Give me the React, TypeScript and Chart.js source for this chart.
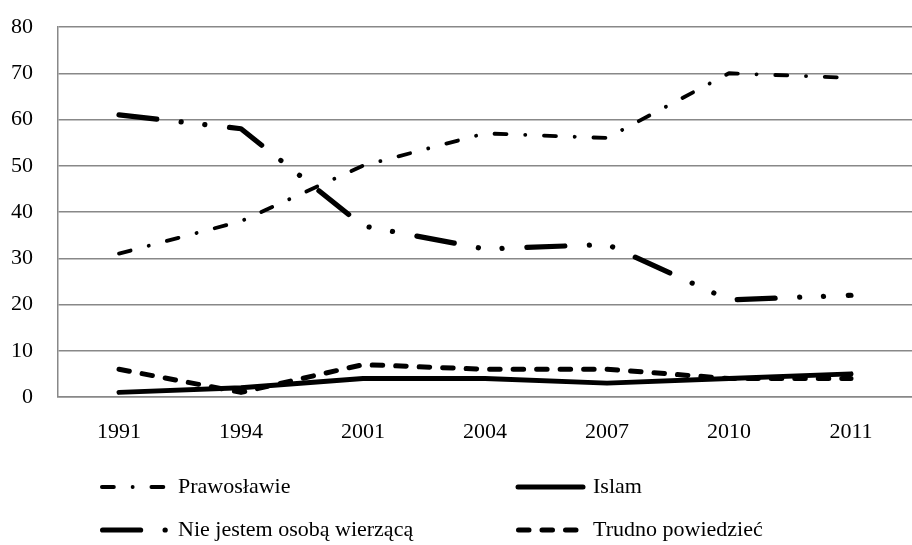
import React, { useEffect, useRef } from "react";
import { Chart, registerables } from "chart.js";

Chart.register(...registerables);

const categories = ["1991", "1994", "2001", "2004", "2007", "2010", "2011"];
const prawoslawie = [31, 38, 50, 57, 56, 70, 69];
const islam = [1, 2, 4, 4, 3, 4, 5];
const niewierzacy = [61, 58, 37, 32, 33, 21, 22];
const trudno = [6, 1, 7, 6, 6, 4, 4];

const seriesLabels = [
  "Prawosławie",
  "Islam",
  "Nie jestem osobą wierzącą",
  "Trudno powiedzieć",
];

const FONT = "'Liberation Serif', 'Times New Roman', serif";

const styles = [
  { width: 3.8, dash: [12, 18.7, 0.1, 18.7] },
  { width: 5, dash: [] as number[] },
  { width: 5.2, dash: [38, 24.5, 0.1, 23.7, 0.1, 24.8] },
  { width: 5, dash: [10.5, 13] },
];

const legendPlacement = [
  { x1: 101.9, x2: 168.1, tx: 178, y: 487 },
  { x1: 518, x2: 583, tx: 593, y: 487 },
  { x1: 102.6, x2: 168, tx: 178, y: 530 },
  { x1: 518.5, x2: 576, tx: 593, y: 530 },
];

const legendPlugin = {
  id: "customLegend",
  afterDraw(chart: any) {
    const ctx = chart.ctx as CanvasRenderingContext2D;
    chart.data.datasets.forEach((ds: any, i: number) => {
      const p = legendPlacement[i];
      const s = styles[i];
      ctx.save();
      ctx.strokeStyle = "#000";
      ctx.lineWidth = s.width;
      ctx.lineCap = "round";
      ctx.setLineDash(s.dash);
      ctx.lineDashOffset = 0;
      ctx.beginPath();
      ctx.moveTo(p.x1, p.y);
      ctx.lineTo(p.x2, p.y);
      ctx.stroke();
      ctx.setLineDash([]);
      ctx.fillStyle = "#000";
      ctx.font = `22px ${FONT}`;
      ctx.textBaseline = "middle";
      ctx.textAlign = "left";
      ctx.fillText(ds.label, p.tx, p.y);
      ctx.restore();
    });
  },
};

export default function App() {
  const ref = useRef<HTMLCanvasElement | null>(null);

  useEffect(() => {
    if (!ref.current) return;
    const seriesData = [prawoslawie, islam, niewierzacy, trudno];
    const chart = new Chart(ref.current, {
      type: "line",
      data: {
        labels: categories,
        datasets: seriesData.map((d, i) => ({
          label: seriesLabels[i],
          data: d,
          borderColor: "#000",
          backgroundColor: "#000",
          borderWidth: styles[i].width,
          borderDash: styles[i].dash,
          borderCapStyle: "round" as const,
          borderJoinStyle: "round" as const,
          pointRadius: 0,
          pointHoverRadius: 0,
          tension: 0,
          fill: false,
        })),
      },
      options: {
        responsive: false,
        animation: false,
        layout: { padding: { top: 27, left: 0, right: -14, bottom: 0 } },
        plugins: {
          legend: { display: false },
          tooltip: { enabled: false },
          title: { display: false },
        },
        scales: {
          x: {
            type: "category",
            offset: true,
            grid: { display: false, drawTicks: false },
            border: { display: true, color: "#888", width: 1.5 },
            ticks: {
              color: "#000",
              padding: 22,
              font: { family: FONT, size: 22 },
              maxRotation: 0,
              autoSkip: false,
            },
            afterFit(scale: any) {
              scale.height = 148;
            },
          },
          y: {
            min: 0,
            max: 80,
            grid: { color: "#888", lineWidth: 1.5, drawTicks: false },
            border: { display: true, color: "#888", width: 1.5 },
            ticks: {
              stepSize: 10,
              color: "#000",
              padding: 25,
              font: { family: FONT, size: 22 },
            },
            afterFit(scale: any) {
              scale.width = 58;
              scale.paddingTop = 0;
              scale.paddingBottom = 0;
            },
          },
        },
      },
      plugins: [legendPlugin],
    });
    return () => chart.destroy();
  }, []);

  return (
    <div
      style={{
        position: "absolute",
        left: 0,
        top: 0,
        width: 912,
        height: 545,
        overflow: "hidden",
        background: "#fff",
      }}
    >
      <canvas ref={ref} width={912} height={545} style={{ display: "block" }} />
    </div>
  );
}
